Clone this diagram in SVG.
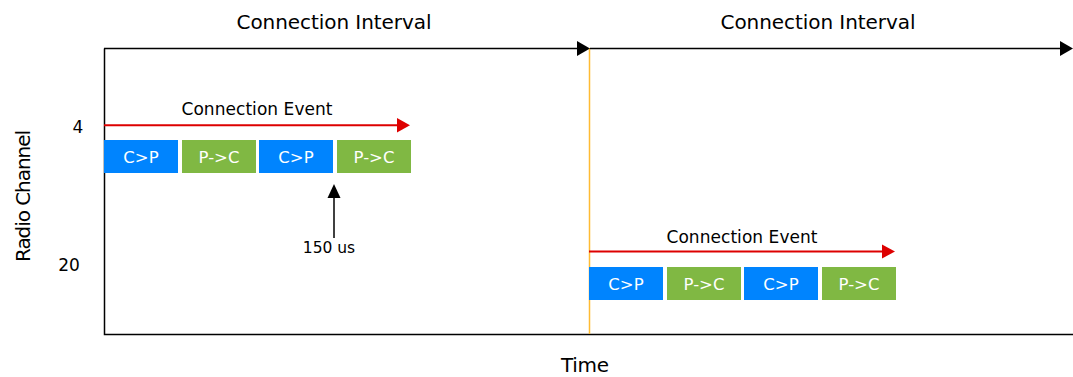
<svg xmlns="http://www.w3.org/2000/svg" width="1073" height="377" viewBox="0 0 1073 377">
<style>
text{font-family:"DejaVu Sans","Liberation Sans",Arial,sans-serif;}
.lbl{font-size:20px;fill:#000;}
.ev{font-size:17px;fill:#000;}
.sm{font-size:15.5px;fill:#000;}
.bx{font-size:16.5px;fill:#fff;}
.cp{fill:#0084fe;}
.pc{fill:#80b843;}
.ax{stroke:#000;stroke-width:1.5;fill:none;}
.red{stroke:#dd0000;stroke-width:2;fill:none;}
</style>
<rect width="1073" height="377" fill="#fff"/>
<g id="axes">
<path class="ax" d="M104.5 48.5 V334.5 H1073"/>
<line x1="589.5" y1="48" x2="589.5" y2="334" stroke="#ffbb33" stroke-width="1.5"/>
</g>
<g id="connectors">
<line class="ax" x1="104" y1="48.5" x2="578" y2="48.5"/>
<polygon points="577,41 590,48.5 577,56" fill="#000"/>
<line class="ax" x1="590" y1="48.5" x2="1060" y2="48.5"/>
<polygon points="1060,41 1073,48.5 1060,56" fill="#000"/>
<line class="red" x1="104" y1="125.3" x2="398" y2="125.3"/>
<polygon points="397,118 410,125.3 397,132.6" fill="#dd0000"/>
<line class="red" x1="589" y1="251.5" x2="883" y2="251.5"/>
<polygon points="882,244.5 895,251.5 882,258.5" fill="#dd0000"/>
<line class="ax" x1="334" y1="238" x2="334" y2="195"/>
<polygon points="327.5,198 334,184 340.5,198" fill="#000"/>
</g>
<g id="labels">
<text class="lbl" x="334" y="29" text-anchor="middle" textLength="195">Connection Interval</text>
<text class="lbl" x="818" y="29" text-anchor="middle" textLength="195">Connection Interval</text>
<text class="lbl" x="585" y="372" text-anchor="middle" textLength="48">Time</text>
<text class="lbl" transform="translate(30,196) rotate(-90)" text-anchor="middle" textLength="132">Radio Channel</text>
<text class="ev" x="78" y="133" text-anchor="middle">4</text>
<text class="ev" x="69" y="271" text-anchor="middle">20</text>
<text class="ev" x="257" y="115" text-anchor="middle" textLength="151">Connection Event</text>
<text class="ev" x="742" y="243" text-anchor="middle" textLength="151">Connection Event</text>
<text class="sm" x="329" y="253" text-anchor="middle">150 us</text>
</g>
<g id="event1">
<g id="e1b1"><rect class="cp" x="104" y="140" width="74" height="33"/><text class="bx" x="141" y="162.5" text-anchor="middle">C&gt;P</text></g>
<g id="e1b2"><rect class="pc" x="182" y="140" width="74" height="33"/><text class="bx" x="219" y="162.5" text-anchor="middle">P-&gt;C</text></g>
<g id="e1b3"><rect class="cp" x="259" y="140" width="74" height="33"/><text class="bx" x="296" y="162.5" text-anchor="middle">C&gt;P</text></g>
<g id="e1b4"><rect class="pc" x="337" y="140" width="74" height="33"/><text class="bx" x="374" y="162.5" text-anchor="middle">P-&gt;C</text></g>
</g>
<g id="event2">
<g id="e2b1"><rect class="cp" x="589" y="267" width="74" height="33"/><text class="bx" x="626" y="289.5" text-anchor="middle">C&gt;P</text></g>
<g id="e2b2"><rect class="pc" x="667" y="267" width="74" height="33"/><text class="bx" x="704" y="289.5" text-anchor="middle">P-&gt;C</text></g>
<g id="e2b3"><rect class="cp" x="744" y="267" width="74" height="33"/><text class="bx" x="781" y="289.5" text-anchor="middle">C&gt;P</text></g>
<g id="e2b4"><rect class="pc" x="822" y="267" width="74" height="33"/><text class="bx" x="859" y="289.5" text-anchor="middle">P-&gt;C</text></g>
</g>
</svg>
